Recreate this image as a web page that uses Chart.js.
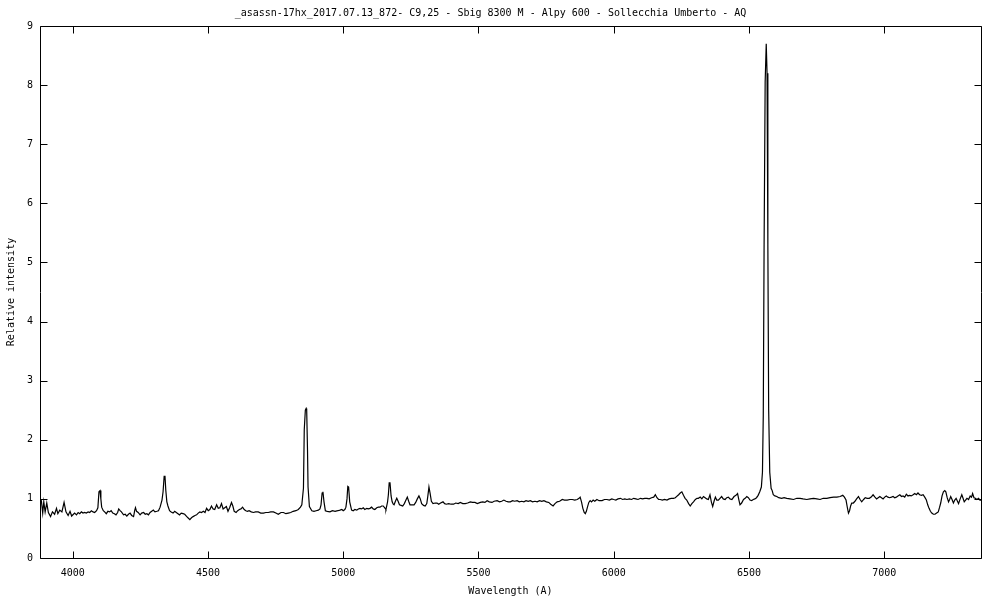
<!DOCTYPE html>
<html>
<head>
<meta charset="utf-8">
<title>asassn-17hx spectrum</title>
<script src="https://cdn.jsdelivr.net/npm/chart.js@4.4.1/dist/chart.umd.min.js"></script>
<style>
  html, body { margin: 0; padding: 0; background: #fff; }
  #wrap { width: 1000px; height: 600px; }
</style>
</head>
<body>
<div id="wrap"><canvas id="chart-spectrum" width="1000" height="600"></canvas></div>
<script>
/* ── Data ───────────────────────────────────────────────── */
const WAVELENGTHS = [
  3880, 3884, 3889, 3893, 3898, 3904, 3910, 3918, 3925, 3933, 3940, 3945, 3952, 3960, 3968, 3975, 3983, 3990, 3996,
  4007, 4014, 4020, 4026, 4032, 4038, 4044, 4050, 4057, 4063, 4069, 4075, 4081, 4088, 4093, 4097, 4101, 4104, 4107,
  4113, 4118, 4124, 4130, 4136, 4142, 4148, 4154, 4160, 4166, 4170, 4175, 4180, 4188, 4194, 4200, 4206, 4212, 4218,
  4225, 4229, 4232, 4236, 4242, 4249, 4255, 4262, 4268, 4274, 4280, 4286, 4292, 4298, 4304, 4311, 4317, 4323, 4330,
  4334, 4338, 4341, 4344, 4348, 4352, 4358, 4364, 4371, 4377, 4383, 4389, 4395, 4401, 4408, 4414, 4420, 4426, 4433,
  4439, 4445, 4452, 4458, 4464, 4470, 4476, 4483, 4489, 4495, 4501, 4507, 4513, 4519, 4525, 4532, 4538, 4544, 4550,
  4556, 4562, 4568, 4574, 4580, 4587, 4592, 4597, 4604, 4610, 4616, 4622, 4628, 4634, 4640, 4646, 4652, 4660, 4668,
  4676, 4686, 4695, 4705, 4714, 4723, 4732, 4742, 4751, 4760, 4770, 4779, 4788, 4797, 4806, 4815, 4825, 4834, 4842,
  4847, 4853, 4856, 4860, 4863, 4865, 4868, 4870, 4875, 4884, 4892, 4900, 4908, 4914, 4918, 4922, 4925, 4929, 4934,
  4941, 4951, 4960, 4970, 4980, 4988, 4995, 5000, 5006, 5010, 5014, 5017, 5020, 5024, 5031, 5037, 5043, 5050, 5056,
  5062, 5068, 5074, 5080, 5087, 5093, 5099, 5105, 5111, 5117, 5124, 5130, 5136, 5142, 5148, 5155, 5158, 5164, 5167,
  5170, 5173, 5177, 5181, 5185, 5188, 5193, 5198, 5203, 5208, 5214, 5220, 5226, 5232, 5237, 5242, 5247, 5254, 5262,
  5268, 5274, 5280, 5285, 5290, 5297, 5303, 5309, 5313, 5317, 5321, 5326, 5332, 5340, 5347, 5353, 5360, 5369, 5375,
  5381, 5390, 5399, 5408, 5416, 5425, 5433, 5442, 5451, 5460, 5470, 5478, 5487, 5496, 5507, 5516, 5524, 5532, 5540,
  5550, 5558, 5569, 5578, 5586, 5594, 5602, 5610, 5618, 5626, 5634, 5643, 5651, 5660, 5668, 5676, 5684, 5692, 5700,
  5709, 5717, 5726, 5734, 5742, 5751, 5760, 5767, 5776, 5783, 5791, 5800, 5810, 5818, 5828, 5838, 5847, 5856, 5865,
  5872, 5876, 5881, 5886, 5891, 5895, 5899, 5903, 5908, 5913, 5918, 5924, 5930, 5938, 5946, 5957, 5966, 5975, 5984,
  5993, 6000, 6008, 6016, 6025, 6033, 6041, 6049, 6058, 6066, 6074, 6082, 6090, 6099, 6107, 6115, 6123, 6131, 6140,
  6148, 6154, 6160, 6166, 6172, 6180, 6188, 6197, 6205, 6213, 6221, 6228, 6235, 6240, 6246, 6252, 6258, 6264, 6270,
  6277, 6283, 6289, 6295, 6302, 6308, 6313, 6320, 6326, 6332, 6338, 6344, 6350, 6356, 6361, 6366, 6371, 6376, 6381,
  6387, 6393, 6399, 6405, 6412, 6418, 6424, 6430, 6437, 6445, 6452, 6458, 6463, 6467, 6473, 6480, 6486, 6492, 6498,
  6504, 6510, 6516, 6522, 6528, 6534, 6540, 6546, 6550, 6553, 6556, 6560, 6564, 6567, 6570, 6573, 6577, 6582, 6586,
  6590, 6596, 6603, 6610, 6621, 6630, 6640, 6652, 6665, 6677, 6689, 6700, 6714, 6726, 6739, 6751, 6763, 6775, 6788,
  6800, 6813, 6825, 6837, 6847, 6853, 6859, 6864, 6868, 6872, 6876, 6880, 6886, 6892, 6898, 6905, 6911, 6917, 6924,
  6930, 6937, 6945, 6952, 6959, 6966, 6972, 6978, 6984, 6990, 6996, 7002, 7008, 7014, 7020, 7027, 7033, 7039, 7045,
  7051, 7058, 7064, 7070, 7076, 7082, 7088, 7094, 7100, 7107, 7113, 7119, 7125, 7131, 7138, 7144, 7150, 7156, 7161,
  7166, 7171, 7176, 7182, 7188, 7194, 7200, 7205, 7209, 7214, 7219, 7224, 7228, 7233, 7238, 7242, 7246, 7251, 7256,
  7261, 7266, 7271, 7275, 7281, 7287, 7291, 7296, 7301, 7306, 7312, 7318, 7323, 7327, 7332, 7337, 7343, 7349, 7354,
  7358
];

const INTENSITY = [
  0.98, 0.97, 0.76, 0.95, 0.78, 0.93, 0.77, 0.70, 0.78, 0.74, 0.84, 0.75, 0.81, 0.78, 0.94, 0.78, 0.72, 0.79, 0.71,
  0.76, 0.73, 0.77, 0.75, 0.78, 0.76, 0.77, 0.76, 0.78, 0.77, 0.80, 0.78, 0.77, 0.80, 0.85, 1.12, 1.14, 1.00, 0.86,
  0.80, 0.78, 0.75, 0.79, 0.78, 0.80, 0.76, 0.75, 0.73, 0.77, 0.83, 0.80, 0.78, 0.73, 0.74, 0.71, 0.74, 0.76, 0.72,
  0.70, 0.80, 0.85, 0.79, 0.77, 0.73, 0.76, 0.77, 0.74, 0.75, 0.73, 0.77, 0.79, 0.81, 0.78, 0.79, 0.80, 0.86, 0.98,
  1.12, 1.38, 1.39, 1.15, 0.95, 0.88, 0.80, 0.78, 0.76, 0.79, 0.77, 0.75, 0.73, 0.76, 0.75, 0.74, 0.71, 0.68, 0.65,
  0.68, 0.70, 0.72, 0.73, 0.76, 0.78, 0.77, 0.79, 0.77, 0.84, 0.80, 0.82, 0.88, 0.83, 0.82, 0.90, 0.84, 0.85, 0.92,
  0.83, 0.85, 0.87, 0.79, 0.85, 0.94, 0.88, 0.79, 0.77, 0.80, 0.82, 0.83, 0.86, 0.82, 0.80, 0.79, 0.80, 0.78, 0.77,
  0.78, 0.78, 0.76, 0.76, 0.77, 0.77, 0.78, 0.78, 0.76, 0.74, 0.77, 0.77, 0.75, 0.76, 0.77, 0.79, 0.80, 0.82, 0.86,
  0.90, 1.18, 2.17, 2.50, 2.53, 2.50, 1.83, 1.20, 0.87, 0.80, 0.79, 0.80, 0.81, 0.83, 0.90, 1.10, 1.12, 0.95, 0.80,
  0.79, 0.78, 0.80, 0.79, 0.80, 0.81, 0.82, 0.80, 0.82, 0.86, 1.00, 1.21, 1.20, 0.95, 0.81, 0.80, 0.82, 0.81, 0.83,
  0.84, 0.83, 0.85, 0.82, 0.84, 0.83, 0.84, 0.86, 0.83, 0.82, 0.85, 0.86, 0.86, 0.88, 0.88, 0.84, 0.82, 0.95, 1.07,
  1.27, 1.27, 1.05, 0.95, 0.91, 0.90, 0.96, 1.01, 0.96, 0.90, 0.89, 0.88, 0.92, 0.98, 1.03, 0.96, 0.90, 0.90, 0.90,
  0.94, 1.00, 1.05, 1.00, 0.92, 0.89, 0.88, 0.92, 1.05, 1.20, 1.10, 0.96, 0.92, 0.93, 0.93, 0.91, 0.93, 0.95, 0.92,
  0.91, 0.92, 0.91, 0.91, 0.93, 0.92, 0.94, 0.92, 0.92, 0.93, 0.95, 0.94, 0.94, 0.92, 0.94, 0.95, 0.94, 0.97, 0.95,
  0.94, 0.96, 0.97, 0.95, 0.96, 0.98, 0.96, 0.95, 0.95, 0.97, 0.96, 0.97, 0.95, 0.96, 0.95, 0.97, 0.96, 0.97, 0.95,
  0.96, 0.95, 0.97, 0.96, 0.97, 0.95, 0.94, 0.91, 0.88, 0.92, 0.95, 0.96, 0.99, 0.98, 0.98, 0.99, 0.99, 0.98, 0.99,
  1.01, 1.03, 0.95, 0.84, 0.77, 0.75, 0.79, 0.86, 0.94, 0.97, 0.95, 0.98, 0.96, 0.99, 0.97, 0.97, 0.99, 0.99, 0.98,
  1.00, 0.99, 0.98, 1.00, 1.01, 0.99, 1.00, 0.99, 1.00, 0.99, 1.01, 1.00, 0.99, 1.01, 1.00, 1.01, 1.01, 1.00, 1.02,
  1.03, 1.07, 1.02, 0.99, 0.99, 0.98, 0.99, 0.98, 1.00, 1.01, 1.01, 1.02, 1.05, 1.07, 1.10, 1.12, 1.06, 1.01, 0.98,
  0.92, 0.88, 0.92, 0.95, 0.99, 1.01, 1.01, 1.03, 1.00, 1.04, 1.02, 1.00, 0.99, 1.07, 0.95, 0.87, 0.96, 1.03, 0.98,
  0.98, 1.01, 1.04, 1.00, 0.99, 1.02, 1.03, 1.00, 0.99, 1.04, 1.06, 1.09, 0.98, 0.90, 0.93, 0.99, 1.01, 1.04, 1.02,
  0.98, 0.97, 0.99, 1.00, 1.02, 1.06, 1.12, 1.20, 1.45, 2.40, 5.20, 8.05, 8.70, 8.20, 5.30, 2.50, 1.45, 1.18, 1.14,
  1.07, 1.05, 1.04, 1.02, 1.01, 1.02, 1.01, 1.00, 0.99, 1.01, 1.01, 1.00, 0.99, 1.00, 1.01, 1.00, 0.99, 1.01, 1.01,
  1.02, 1.03, 1.03, 1.04, 1.06, 1.03, 0.98, 0.85, 0.76, 0.80, 0.88, 0.93, 0.93, 0.96, 1.00, 1.04, 0.99, 0.95, 0.99,
  1.02, 1.01, 1.01, 1.03, 1.07, 1.03, 1.00, 1.02, 1.04, 1.02, 1.00, 1.03, 1.05, 1.03, 1.02, 1.03, 1.04, 1.02, 1.03,
  1.05, 1.07, 1.04, 1.05, 1.03, 1.08, 1.05, 1.06, 1.05, 1.07, 1.09, 1.07, 1.10, 1.07, 1.06, 1.07, 1.03, 0.98, 0.90,
  0.84, 0.79, 0.76, 0.74, 0.74, 0.76, 0.78, 0.86, 0.93, 1.05, 1.12, 1.14, 1.12, 1.02, 0.95, 0.99, 1.04, 0.99, 0.93,
  0.98, 1.01, 0.96, 0.92, 1.00, 1.07, 1.02, 0.95, 0.98, 1.01, 0.99, 1.05, 1.03, 1.09, 1.02, 1.01, 0.99, 1.01, 0.98,
  0.98
];

const X_TICKS = [4000, 4500, 5000, 5500, 6000, 6500, 7000];
const Y_TICKS = [0, 1, 2, 3, 4, 5, 6, 7, 8, 9];
const X_RANGE = [3879, 7358];
const Y_RANGE = [0, 9];

const TITLE   = '_asassn-17hx_2017.07.13_872- C9,25 - Sbig 8300 M - Alpy 600 - Sollecchia Umberto - AQ';
const X_LABEL = 'Wavelength (A)';
const Y_LABEL = 'Relative intensity';

/* ── Style ─────────────────────────────────────────────── */
const FONT = { family: "'DejaVu Sans Mono', monospace", size: 10, weight: 'normal', lineHeight: 1.2 };
const TICK_LEN = 7;

/* ── gnuplot-like frame: box border + inward mirrored ticks ── */
const gnuplotFrame = {
  id: 'gnuplotFrame',
  afterDraw(chart) {
    const { ctx, chartArea: a, scales: { x, y } } = chart;
    const L = Math.round(a.left) + 0.5, R = Math.round(a.right) + 0.5;
    const T = Math.round(a.top) + 0.5,  B = Math.round(a.bottom) + 0.5;
    ctx.save();
    ctx.strokeStyle = '#000';
    ctx.lineWidth = 1;
    ctx.beginPath();
    ctx.rect(L, T, R - L, B - T);
    for (const t of x.ticks) {
      const px = Math.round(x.getPixelForValue(t.value)) + 0.5;
      ctx.moveTo(px, B); ctx.lineTo(px, B - TICK_LEN);
      ctx.moveTo(px, T); ctx.lineTo(px, T + TICK_LEN);
    }
    for (const t of y.ticks) {
      const py = Math.round(y.getPixelForValue(t.value)) + 0.5;
      ctx.moveTo(L, py); ctx.lineTo(L + TICK_LEN, py);
      ctx.moveTo(R, py); ctx.lineTo(R - TICK_LEN, py);
    }
    ctx.stroke();
    ctx.restore();
  },
};

/* ── Chart ─────────────────────────────────────────────── */
const points = WAVELENGTHS.map((w, i) => ({ x: w, y: INTENSITY[i] }));

new Chart(document.getElementById('chart-spectrum').getContext('2d'), {
  type: 'line',
  data: {
    datasets: [{
      data:        points,
      borderColor: '#000',
      borderWidth: 1.2,
      pointRadius: 0,
      tension:     0,
      fill:        false,
    }],
  },
  options: {
    responsive: false,
    animation:  false,
    layout: { padding: { left: 0, right: 19, top: 0, bottom: 0 } },
    plugins: {
      legend:  { display: false },
      tooltip: { enabled: false },
      title: {
        display: true,
        text:    TITLE,
        color:   '#000',
        font:    FONT,
        padding: { top: 7, bottom: 7 },
      },
    },
    scales: {
      x: {
        type: 'linear',
        min:  X_RANGE[0],
        max:  X_RANGE[1],
        grid:   { display: false, drawTicks: false },
        border: { display: false },
        afterBuildTicks: s => { s.ticks = X_TICKS.map(v => ({ value: v })); },
        afterFit:        s => { s.height = 42; },
        ticks: { color: '#000', font: FONT, padding: 9, maxRotation: 0, autoSkip: false, callback: v => String(v) },
        title: { display: true, text: X_LABEL, color: '#000', font: FONT, padding: { top: 0, bottom: 3 } },
      },
      y: {
        type: 'linear',
        min:  Y_RANGE[0],
        max:  Y_RANGE[1],
        grid:   { display: false, drawTicks: false },
        border: { display: false },
        afterBuildTicks: s => { s.ticks = Y_TICKS.map(v => ({ value: v })); },
        afterFit:        s => { s.width = 40; },
        ticks: { color: '#000', font: FONT, padding: 7, autoSkip: false, callback: v => String(v) },
        title: { display: true, text: Y_LABEL, color: '#000', font: FONT, padding: { top: 5, bottom: 0 } },
      },
    },
  },
  plugins: [gnuplotFrame],
});
</script>
</body>
</html>
